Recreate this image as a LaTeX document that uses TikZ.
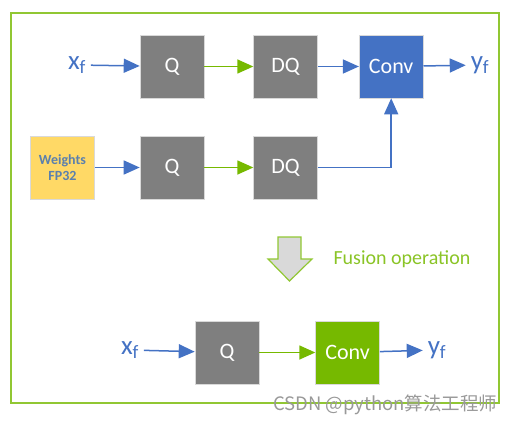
\documentclass[tikz,border=0pt]{standalone}
\usepackage{fontspec}
\setmainfont{Carlito}
\newfontfamily\cjk{Noto Sans CJK SC}
\usetikzlibrary{positioning, arrows.meta, calc}

\definecolor{boxgray}{HTML}{7F7F7F}
\definecolor{convblue}{HTML}{4472C4}
\definecolor{nvgreen}{HTML}{76B900}
\definecolor{wyellow}{HTML}{FFD966}
\definecolor{wtext}{HTML}{5B80AD}

\begin{document}
\begin{tikzpicture}[
        x=1pt, y=-1pt,
        box/.style={draw=white!85!black, line width=0.6pt, rectangle, minimum width=64pt, minimum height=63pt, inner sep=0pt, text=white, font=\fontsize{22}{26}\selectfont},
        io/.style={text=convblue, font=\fontsize{27}{30}\selectfont, inner sep=1pt, outer sep=4pt},
        barrow/.style={-{Triangle[length=16pt,width=14pt]}, line width=1.5pt, draw=convblue},
        garrow/.style={-{Triangle[length=16pt,width=14pt]}, line width=1.5pt, draw=nvgreen}
    ]
    \useasboundingbox (0,0) rectangle (516,425);
    \draw[nvgreen!80!white, line width=1.8pt] (11,13) rectangle (499,403);

    % Top path
    \node[io] (x1) at (77,65) {x\textsubscript{f}};
    \node[box, fill=boxgray] (q1) at (172,66.5) {Q};
    \node[box, fill=boxgray, right=49pt of q1] (dq1) {DQ};
    \node[box, fill=convblue, right=41pt of dq1] (conv1) {Conv};
    \node[io] (y1) at (480,65) {y\textsubscript{f}};

    % Weight path
    \node[box, fill=wyellow, text=wtext, font=\fontsize{14}{16}\selectfont\bfseries, align=center] (w) at (62.5,167.5) {Weights\\FP32};
    \node[box, fill=boxgray] (q2) at (172,167.5) {Q};
    \node[box, fill=boxgray, right=49pt of q2] (dq2) {DQ};

    % Arrows
    \draw[barrow] (x1) -- (q1);
    \draw[garrow] (q1) -- (dq1);
    \draw[barrow] (dq1) -- (conv1);
    \draw[barrow] (conv1) -- (y1);
    \draw[barrow] (w) -- (q2);
    \draw[garrow] (q2) -- (dq2);
    \draw[barrow] (dq2.east) -| (conv1.south);

    % Fusion
    \draw[nvgreen!80!white, fill=gray!30, line width=1.2pt] (278,237) -- (301,237) -- (301,259) -- (312,259) -- (289.5,281) -- (268,259) -- (278,259) -- cycle;
    \node[text=nvgreen!85!white, font=\fontsize{20}{24}\selectfont, anchor=west] (fus) at (330,259) {Fusion operation};

    % Fused path
    \node[io] (x2) at (130,350) {x\textsubscript{f}};
    \node[box, fill=boxgray] (q3) at (227,352.5) {Q};
    \node[box, fill=nvgreen, right=56pt of q3] (conv2) {Conv};
    \node[io] (y2) at (437,350) {y\textsubscript{f}};
    \draw[barrow] (x2) -- (q3);
    \draw[garrow] (q3) -- (conv2);
    \draw[barrow] (conv2) -- (y2);

    \node[text=gray!80, font=\cjk\fontsize{18.5}{20}\selectfont, anchor=east] (wm) at (501,405) {CSDN @python算法工程师};
\end{tikzpicture}
\end{document}
